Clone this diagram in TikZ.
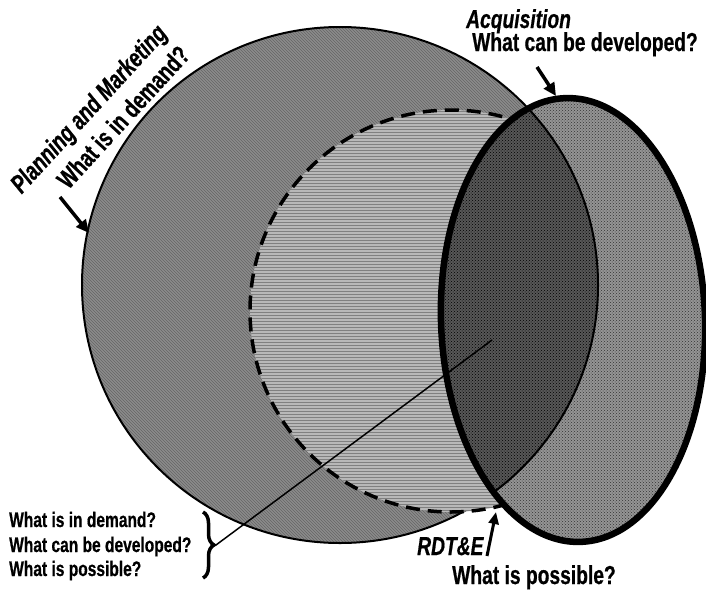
\documentclass[tikz,border=0pt]{standalone}
\usepackage{fontspec}
\setmainfont{Liberation Sans}
\newfontfamily\lbl[FakeStretch=0.74, BoldFeatures={FakeBold=0.6}, BoldItalicFeatures={FakeBold=0.6}]{Liberation Sans}
\usetikzlibrary{patterns,arrows.meta,decorations.pathreplacing}
\begin{document}
\begin{tikzpicture}[x=1pt,y=-1pt,
  lab/.style={font=\lbl\fontsize{26}{28}\selectfont\bfseries, inner sep=0pt},
  labit/.style={font=\lbl\fontsize{26}{28}\selectfont\bfseries\itshape, inner sep=0pt},
  lst/.style={font=\lbl\fontsize{21}{23}\selectfont\bfseries, inner sep=0pt, anchor=base west},
  ptr/.style={line width=3.5pt, -{Triangle[length=13pt,width=12pt]}},
  bigfill/.style={fill=black!45},
  dashfill/.style={fill=black!28},
  ellfill/.style={fill=black!42},
  lensfill/.style={fill=black!66},
]
\useasboundingbox (0,0) rectangle (706,589);
\fill[white] (0,0) rectangle (706,589);
\coordinate (B) at (340,285);
\coordinate (D) at (451,311);
\coordinate (E) at (573,320);
% big circle
\fill[bigfill] (B) circle[radius=258pt];
\fill[pattern=north west lines, pattern color=black!60] (B) circle[radius=258pt];
\draw[line width=2pt] (B) circle[radius=258pt];
% dashed circle
\fill[dashfill] (D) circle[radius=201pt];
\fill[pattern=horizontal lines, pattern color=black!50] (D) circle[radius=201pt];
\draw[line width=3.5pt, dash pattern=on 14pt off 8pt] (D) circle[radius=201pt];
% ellipse
\fill[ellfill, rotate around={2:(E)}] (E) ellipse[x radius=132pt, y radius=222pt];
\fill[pattern=crosshatch dots, pattern color=black!80, rotate around={2:(E)}] (E) ellipse[x radius=132pt, y radius=222pt];
\begin{scope}
  \clip[rotate around={2:(E)}] (E) ellipse[x radius=132pt, y radius=222pt];
  \fill[lensfill] (B) circle[radius=258pt];
  \fill[pattern=crosshatch dots, pattern color=black] (B) circle[radius=258pt];
  \draw[line width=2pt] (B) circle[radius=258pt];
\end{scope}
\draw[line width=6.5pt, rotate around={2:(E)}] (E) ellipse[x radius=132pt, y radius=222pt];
% labels
\node[labit, anchor=base west] (acq) at (466,28) {Acquisition};
\node[lab, anchor=base west] (acqq) at (472,51) {What can be developed?};
\node[labit, rotate=47.5] (plan) at (90,110) {Planning and Marketing};
\node[lab, rotate=47.5] (planq) at (123,117) {What is in demand?};
\node[labit, anchor=base west] (rdte) at (417,555) {RDT\&E};
\node[lab, anchor=base west] (rdteq) at (452,584) {What is possible?};
\node[lst] (l1) at (9,527) {What is in demand?};
\node[lst] (l2) at (9,552) {What can be developed?};
\node[lst] (l3) at (9,576) {What is possible?};
% arrows
\coordinate (a1s) at (537,67);
\coordinate (a1e) at (556,96);
\draw[ptr] (a1s) -- (a1e);
\coordinate (a2s) at (60,197);
\coordinate (a2e) at (89,233);
\draw[ptr] (a2s) -- (a2e);
\coordinate (a3s) at (487,556);
\coordinate (a3e) at (496,512);
\draw[line width=3pt, -{Triangle[length=12pt,width=10pt]}] (a3s) -- (a3e);
% brace and pointer
\coordinate (bt) at (203,512);
\coordinate (bb) at (203,578);
\draw[line width=3.5pt, decorate, decoration={brace, amplitude=11pt}] (bt) -- (bb);
\coordinate (btip) at (216,545);
\coordinate (lens) at (492,340);
\draw[line width=1.5pt] (btip) -- (lens);
\end{tikzpicture}
\end{document}
